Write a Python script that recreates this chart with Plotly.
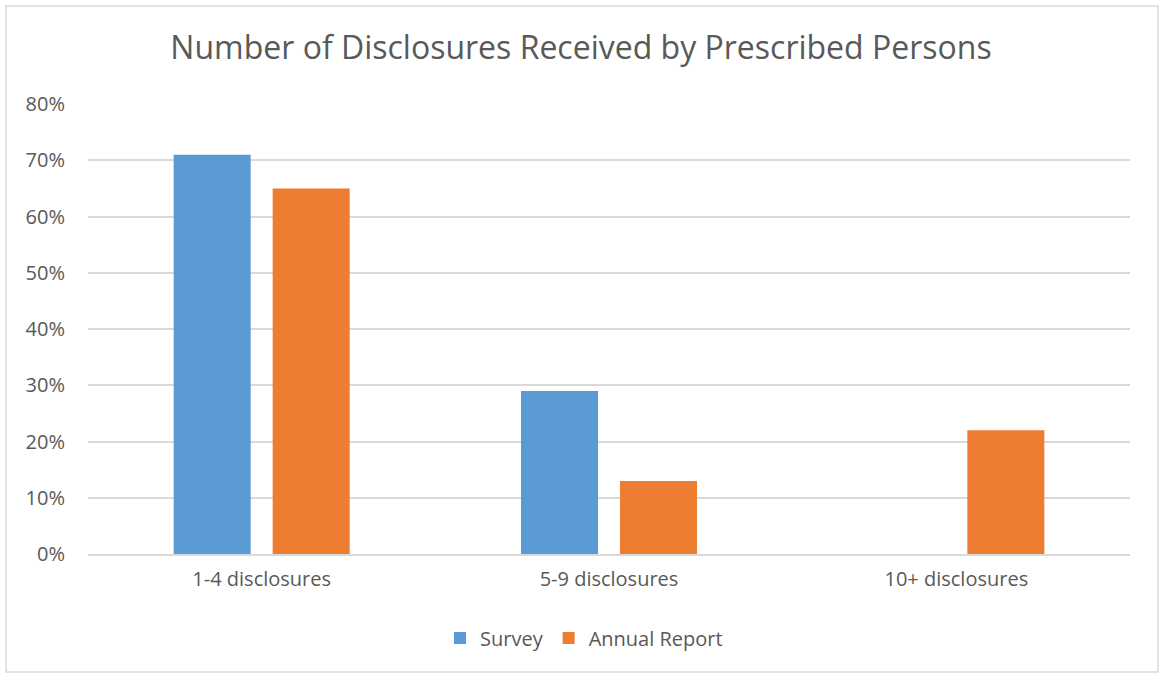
import plotly.graph_objects as go

categories = ["1-4 disclosures", "5-9 disclosures", "10+ disclosures"]
survey = [0.71, 0.29, 0.0]
annual_report = [0.65, 0.13, 0.22]
y_ticks = [0, 0.1, 0.2, 0.3, 0.4, 0.5, 0.6, 0.7, 0.8]
y_tick_labels = ["0%", "10%", "20%", "30%", "40%", "50%", "60%", "70%", "80%"]

FONT = "Open Sans, Liberation Sans, sans-serif"
TEXT = "#595959"
GRID = "#d9d9d9"

fig = go.Figure()
fig.add_trace(go.Bar(name="Survey", x=categories, y=survey, marker_color="#5b9bd5",
                     marker_line_width=0))
fig.add_trace(go.Bar(name="Annual Report", x=categories, y=annual_report, marker_color="#ed7d31",
                     marker_line_width=0))

W, H = 1162, 673
L, R, T, B = 88, 32, 104, 119
pw, ph = W - L - R, H - T - B

def px_x(v):
    return (v - L) / pw

def px_y(v):
    return (H - B - v) / ph

fig.update_layout(
    width=W, height=H,
    margin=dict(l=L, r=R, t=T, b=B),
    paper_bgcolor="white", plot_bgcolor="white",
    barmode="group", bargap=0.43, bargroupgap=0.222,
    title=dict(text="Number of Disclosures Received by Prescribed Persons",
               x=0.5, xanchor="center", y=1 - 48 / H, yanchor="middle",
               font=dict(family=FONT, size=32, color=TEXT)),
    font=dict(family=FONT, size=20, color=TEXT),
    legend=dict(orientation="h", x=px_x(584), xanchor="center", y=px_y(638), yanchor="middle",
                font=dict(family=FONT, size=20, color=TEXT), itemwidth=30,
                traceorder="normal"),
    xaxis=dict(showgrid=False, showline=True, linecolor=GRID, linewidth=1.5,
               tickfont=dict(size=20, color=TEXT), ticklabelstandoff=6),
    yaxis=dict(range=[0, 0.8], tickvals=y_ticks, ticktext=y_tick_labels,
               showgrid=True, gridcolor=GRID, gridwidth=1.5, zeroline=False,
               showline=False, tickfont=dict(size=20, color=TEXT),
               ticklabelstandoff=22),
    shapes=[dict(type="rect", xref="paper", yref="paper",
                 x0=px_x(6), x1=px_x(1158), y0=px_y(672), y1=px_y(6),
                 line=dict(color=GRID, width=1.5), fillcolor="rgba(0,0,0,0)",
                 layer="below")],
)

fig.write_html("out.html")
